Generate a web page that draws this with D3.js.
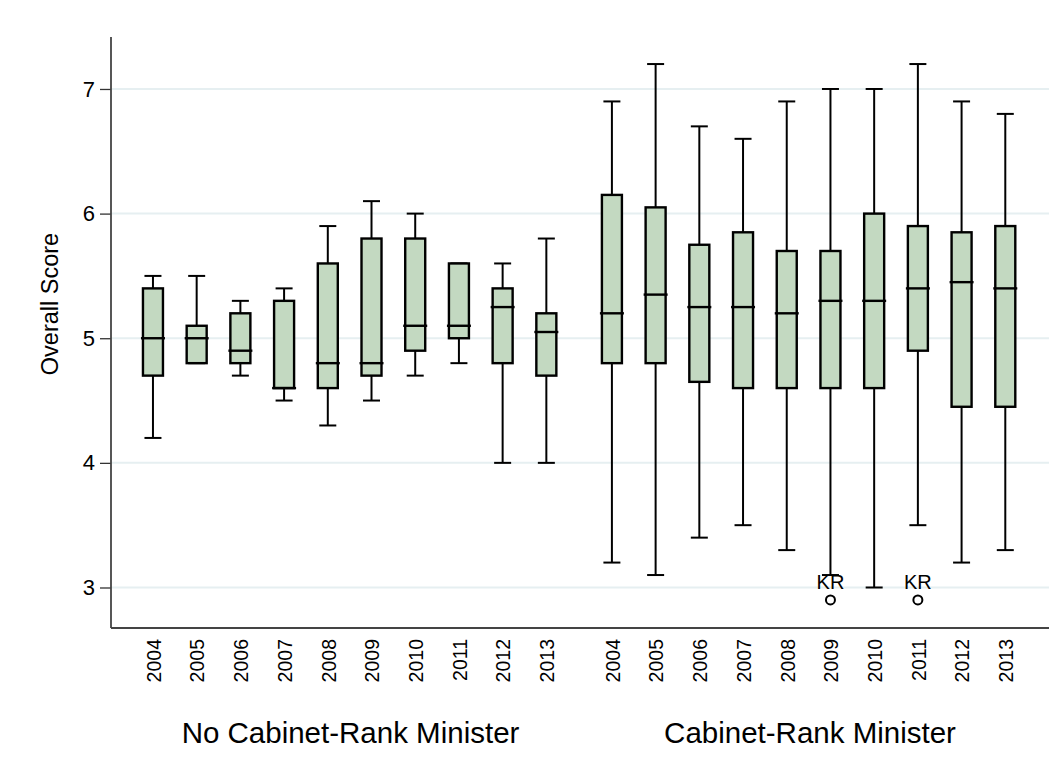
<!DOCTYPE html>
<html>
<head>
<meta charset="utf-8">
<script src="https://cdn.jsdelivr.net/npm/d3@7.9.0/dist/d3.min.js"></script>
<style>
  body { margin: 0; background: #fff; }
  svg text { font-family: Arial, "Liberation Sans", Helvetica, sans-serif; fill: #000; }
</style>
</head>
<body>
<svg id="chart" width="1062" height="765"></svg>
<script>
// data
const years = ['2004', '2005', '2006', '2007', '2008', '2009', '2010', '2011', '2012', '2013'];
const groupNames = ['No Cabinet-Rank Minister', 'Cabinet-Rank Minister'];

// no cabinet-rank minister
const noCabLow  = [4.2, 4.8, 4.7, 4.5, 4.3, 4.5, 4.7, 4.8, 4.0, 4.0];
const noCabQ1   = [4.7, 4.8, 4.8, 4.6, 4.6, 4.7, 4.9, 5.0, 4.8, 4.7];
const noCabMed  = [5.0, 5.0, 4.9, 4.6, 4.8, 4.8, 5.1, 5.1, 5.25, 5.05];
const noCabQ3   = [5.4, 5.1, 5.2, 5.3, 5.6, 5.8, 5.8, 5.6, 5.4, 5.2];
const noCabHigh = [5.5, 5.5, 5.3, 5.4, 5.9, 6.1, 6.0, 5.6, 5.6, 5.8];

// cabinet-rank minister
const cabLow  = [3.2, 3.1, 3.4, 3.5, 3.3, 3.1, 3.0, 3.5, 3.2, 3.3];
const cabQ1   = [4.8, 4.8, 4.65, 4.6, 4.6, 4.6, 4.6, 4.9, 4.45, 4.45];
const cabMed  = [5.2, 5.35, 5.25, 5.25, 5.2, 5.3, 5.3, 5.4, 5.45, 5.4];
const cabQ3   = [6.15, 6.05, 5.75, 5.85, 5.7, 5.7, 6.0, 5.9, 5.85, 5.9];
const cabHigh = [6.9, 7.2, 6.7, 6.6, 6.9, 7.0, 7.0, 7.2, 6.9, 6.8];

const outlierGroup = [1, 1];
const outlierYear  = ['2009', '2011'];
const outlierValue = [2.9, 2.9];
const outlierLabel = ['KR', 'KR'];

const yTicks = [3, 4, 5, 6, 7];

// build rows
const stats = [
  [noCabLow, noCabQ1, noCabMed, noCabQ3, noCabHigh],
  [cabLow, cabQ1, cabMed, cabQ3, cabHigh]
];
let boxes = [];
stats.forEach((s, g) => {
  years.forEach((yr, i) => {
    boxes.push({ group: g, year: yr, i: i,
      low: s[0][i], q1: s[1][i], med: s[2][i], q3: s[3][i], high: s[4][i] });
  });
});

const svg = d3.select('#chart');

// slot position: left group 0..9, right group 10.5..19.5
const slot = (g, i) => g * 10.5 + i;
const x = d3.scaleLinear().domain([-0.96, 20.5]).range([111, 1049]);
const y = d3.scaleLinear().domain([2.675, 7.417]).range([628, 37]);

const plotL = 111, plotR = 1049, plotB = 628, plotT = 37;

// gridlines
svg.append('g')
  .selectAll('line')
  .data(yTicks)
  .join('line')
  .attr('x1', plotL).attr('x2', plotR)
  .attr('y1', d => y(d)).attr('y2', d => y(d))
  .attr('stroke', '#e6eff1')
  .attr('stroke-width', 2);

// y axis
let yAxis = d3.axisLeft(y).tickValues(yTicks).tickSize(11).tickPadding(5).tickFormat(d3.format('d'));
let yg = svg.append('g').attr('transform', `translate(${plotL},0)`).call(yAxis);
yg.select('.domain').remove();
yg.selectAll('.tick line').attr('stroke', '#333').attr('stroke-width', 1.3);
yg.selectAll('.tick text').attr('font-size', 22).style('fill', '#000');

svg.append('line')
  .attr('x1', plotL).attr('x2', plotL).attr('y1', plotT).attr('y2', plotB)
  .attr('stroke', '#444').attr('stroke-width', 1.8);
svg.append('line')
  .attr('x1', plotL).attr('x2', plotR).attr('y1', plotB).attr('y2', plotB)
  .attr('stroke', '#444').attr('stroke-width', 1.8);

svg.append('text')
  .attr('transform', `translate(58,304) rotate(-90)`)
  .attr('text-anchor', 'middle')
  .attr('font-size', 23.5)
  .text('Overall Score');

// boxes
const boxW = 20, capW = 17, medW = 24;
const bg = svg.append('g').selectAll('g')
  .data(boxes)
  .join('g')
  .attr('transform', d => `translate(${x(slot(d.group, d.i))},0)`);

bg.append('line') // upper whisker
  .attr('x1', 0).attr('x2', 0)
  .attr('y1', d => y(d.high)).attr('y2', d => y(d.q3))
  .attr('stroke', '#000').attr('stroke-width', 2);
bg.append('line') // lower whisker
  .attr('x1', 0).attr('x2', 0)
  .attr('y1', d => y(d.q1)).attr('y2', d => y(d.low))
  .attr('stroke', '#000').attr('stroke-width', 2);
bg.append('line')
  .attr('x1', -capW / 2).attr('x2', capW / 2)
  .attr('y1', d => y(d.high)).attr('y2', d => y(d.high))
  .attr('stroke', '#000').attr('stroke-width', 2);
bg.append('line')
  .attr('x1', -capW / 2).attr('x2', capW / 2)
  .attr('y1', d => y(d.low)).attr('y2', d => y(d.low))
  .attr('stroke', '#000').attr('stroke-width', 2);
bg.append('rect')
  .attr('x', -boxW / 2).attr('width', boxW)
  .attr('y', d => y(d.q3))
  .attr('height', d => y(d.q1) - y(d.q3))
  .attr('fill', '#c3d9c1')
  .attr('stroke', '#000').attr('stroke-width', 2.4);
bg.append('line')
  .attr('x1', -medW / 2).attr('x2', medW / 2)
  .attr('y1', d => y(d.med)).attr('y2', d => y(d.med))
  .attr('stroke', '#000').attr('stroke-width', 2.4);

// outliers
outlierValue.forEach((v, k) => {
  let cx = x(slot(outlierGroup[k], years.indexOf(outlierYear[k])));
  svg.append('circle')
    .attr('cx', cx).attr('cy', y(v)).attr('r', 4.5)
    .attr('fill', 'none').attr('stroke', '#000').attr('stroke-width', 2);
  svg.append('text')
    .attr('x', cx).attr('y', y(v) - 11)
    .attr('text-anchor', 'middle')
    .attr('font-size', 20)
    .text(outlierLabel[k]);
});

// year labels
boxes.forEach(d => {
  svg.append('text')
    .attr('transform', `translate(${x(slot(d.group, d.i)) + 1},639) rotate(-90)`)
    .attr('text-anchor', 'end')
    .attr('dy', '0.35em')
    .attr('font-size', 19.5)
    .text(d.year);
});

// group labels
const groupCx = [350.5, 810];
groupNames.forEach((n, g) => {
  svg.append('text')
    .attr('x', groupCx[g]).attr('y', 743)
    .attr('text-anchor', 'middle')
    .attr('font-size', 29.5)
    .text(n);
});
</script>
</body>
</html>
